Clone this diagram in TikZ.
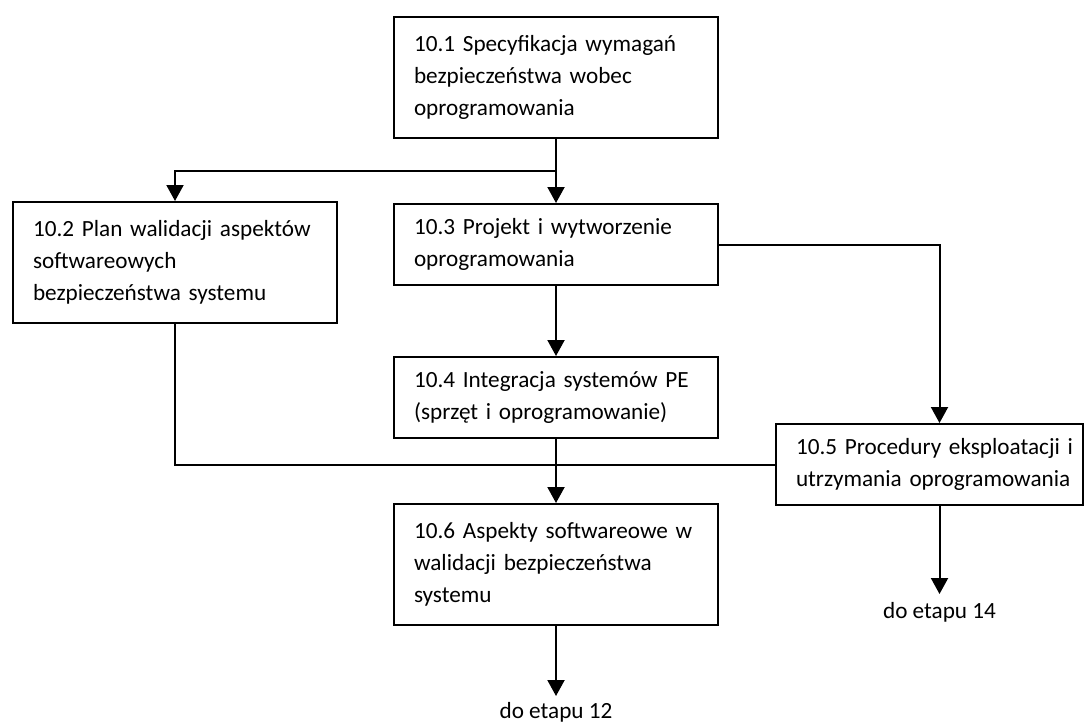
\documentclass[tikz,border=0pt]{standalone}
\usepackage{fontspec}
\setmainfont{Carlito}
\usepackage{tikz}
\usetikzlibrary{
  arrows.meta,
  positioning,
  calc
}
\tikzset{
  stagebox/.style={
    draw,
    line width=1pt,
    align=left,
    text width=142pt,
    inner xsep=10pt,
    inner ysep=4pt,
    minimum height=40.5pt,
    font=\fontsize{11.6}{16}\selectfont
  },
  tallbox/.style={stagebox,minimum height=60.5pt},
  flowline/.style={line width=1pt,draw=black},
  flowarrow/.style={flowline,-{Triangle[length=8pt,width=8.5pt]}},
  endlabel/.style={font=\fontsize{11.6}{16}\selectfont,inner xsep=0pt,inner ysep=4pt},
}
\begin{document}
\begin{tikzpicture}[x=0.5pt,y=-0.5pt]
  \useasboundingbox (0,0) rectangle (1086,724);
  \node[tallbox,anchor=north west] (spec) at (393,16) {
    10.1 Specyfikacja wymagań\\
    bezpieczeństwa wobec\\
    oprogramowania
  };
  \node[stagebox,below=32pt of spec] (proj) {
    10.3 Projekt i wytworzenie\\
    oprogramowania
  };
  \node[tallbox,anchor=north west] (plan) at (12,201) {
    10.2 Plan walidacji aspektów\\
    softwareowych\\
    bezpieczeństwa systemu
  };
  \node[stagebox,below=35pt of proj] (integ) {
    10.4 Integracja systemów PE\\
    (sprzęt i oprogramowanie)
  };
  \node[stagebox,text width=133.5pt,anchor=north west] (proc) at (775,423) {
    \mbox{10.5 Procedury eksploatacji i}\\
    \mbox{utrzymania oprogramowania}
  };
  \node[tallbox,below=32pt of integ] (aspects) {
    10.6 Aspekty softwareowe w\\
    walidacji bezpieczeństwa\\
    systemu
  };
  \node[endlabel,below=44pt of proc.south,xshift=5pt] (end14) {do etapu 14};
  \node[endlabel,inner ysep=3pt,below=35pt of aspects.south] (end12) {do etapu 12};
  \coordinate (split) at ($(spec.south)!0.5!(proj.north)$);
  \draw[flowarrow] (spec.south) -- (proj.north);
  \draw[flowarrow] (split) -| (plan.north);
  \draw[flowarrow] (proj.south) -- (integ.north);
  \draw[flowarrow] (proj.east) -| ([xshift=5pt]proc.north);
  \draw[flowarrow] (integ.south) -- (aspects.north);
  \draw[flowline] (plan.south) |- (proc.west);
  \draw[flowarrow] ([xshift=5pt]proc.south) -- (end14.north);
  \draw[flowarrow] (aspects.south) -- (end12.north);
\end{tikzpicture}
\end{document}
